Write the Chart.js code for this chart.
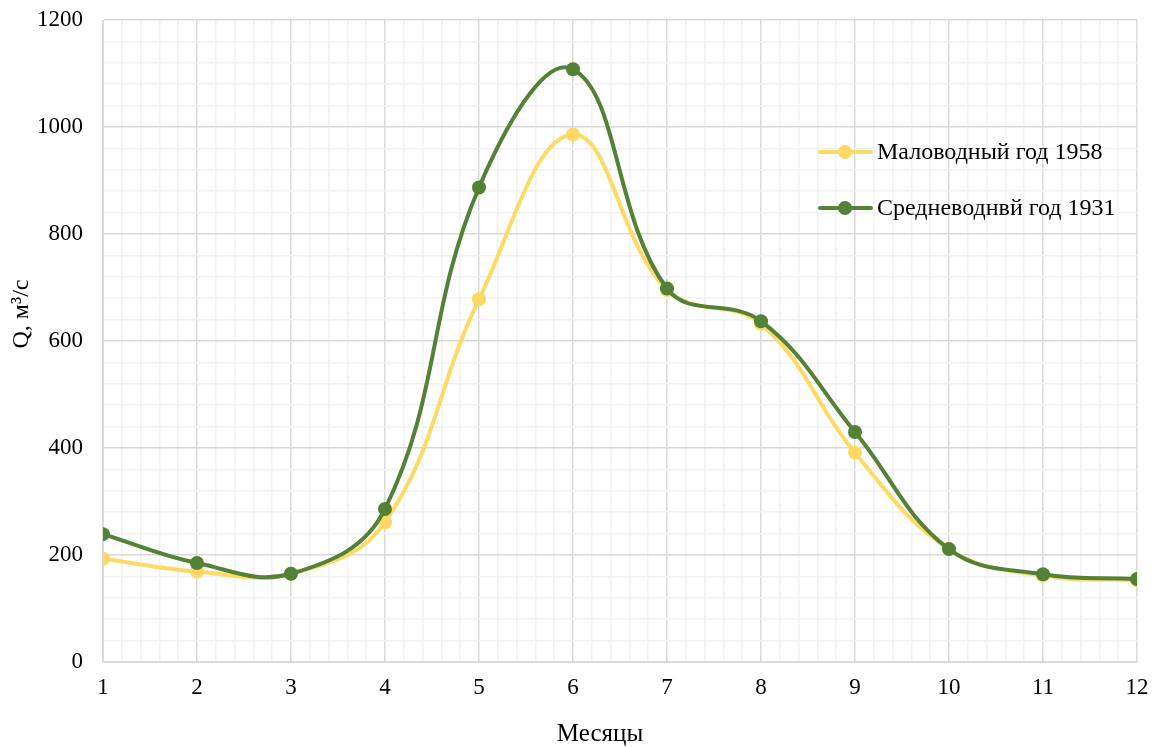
<!DOCTYPE html>
<html>
<head>
<meta charset="utf-8">
<script src="https://cdn.jsdelivr.net/npm/chart.js@4.4.1/dist/chart.umd.min.js"></script>
<style>
  html, body { margin: 0; padding: 0; background: #fff; }
  #wrap { width: 1157px; height: 747px; }
</style>
</head>
<body>
<div id="wrap"><canvas id="flowChart"></canvas></div>
<script>
var months = [1, 2, 3, 4, 5, 6, 7, 8, 9, 10, 11, 12];
var dry1958 = [193, 169, 165, 261, 678, 986, 695, 632, 391, 211, 161, 153];
var avg1931 = [239, 185, 165, 286, 887, 1108, 698, 637, 430, 211, 164, 155];
var labels = ['Маловодный год 1958', 'Средневоднвй год 1931'];
var colors = ['#FFD966', '#538135'];
var xTitle = 'Месяцы';
var yTitle = 'Q, м³/с';

function toPoints(vals) {
    return months.map(function(m, i) { return { x: m, y: vals[i] }; });
}

function isMajor(v, step) {
    var r = v / step;
    return Math.abs(r - Math.round(r)) < 1e-6;
}

var fontFamily = '"Liberation Serif", "Times New Roman", serif';

// legend and axis titles drawn by hand, placed like in the original
var overlay = {
    id: 'overlay',
    afterDraw: function(chart) {
        var ctx = chart.ctx;
        var rows = [152, 208];
        ctx.save();
        ctx.font = '24px ' + fontFamily;
        ctx.textBaseline = 'middle';
        for (var i = 0; i < labels.length; i++) {
            var y = rows[i];
            ctx.strokeStyle = colors[i];
            ctx.lineWidth = 4;
            ctx.lineCap = 'round';
            ctx.beginPath();
            ctx.moveTo(820, y);
            ctx.lineTo(871, y);
            ctx.stroke();
            ctx.fillStyle = colors[i];
            ctx.beginPath();
            ctx.arc(845, y, 7, 0, Math.PI * 2);
            ctx.fill();
            ctx.fillStyle = '#000';
            ctx.fillText(labels[i], 877, y + 1);
        }

        ctx.fillStyle = '#000';
        ctx.textAlign = 'center';
        ctx.font = '25px ' + fontFamily;
        ctx.fillText(xTitle, 600, 734);

        ctx.font = '24px ' + fontFamily;
        ctx.translate(22, 314);
        ctx.rotate(-Math.PI / 2);
        ctx.fillText(yTitle, 0, 0);
        ctx.restore();
    }
};

document.addEventListener('DOMContentLoaded', function() {
    var ctx = document.getElementById('flowChart').getContext('2d');
    new Chart(ctx, {
        type: 'line',
        data: {
            datasets: [
                {
                    label: labels[0],
                    data: toPoints(dry1958),
                    borderColor: colors[0],
                    backgroundColor: colors[0],
                    pointBackgroundColor: colors[0],
                    borderWidth: 4,
                    pointRadius: 7,
                    pointBorderWidth: 0,
                    tension: 0.4,
                    order: 2
                },
                {
                    label: labels[1],
                    data: toPoints(avg1931),
                    borderColor: colors[1],
                    backgroundColor: colors[1],
                    pointBackgroundColor: colors[1],
                    borderWidth: 4,
                    pointRadius: 7,
                    pointBorderWidth: 0,
                    tension: 0.4,
                    order: 1
                }
            ]
        },
        options: {
            responsive: true,
            maintainAspectRatio: false,
            animation: false,
            layout: { padding: { top: 20, right: 20, left: 0, bottom: 0 } },
            plugins: {
                legend: { display: false },
                tooltip: { enabled: false }
            },
            scales: {
                x: {
                    type: 'linear',
                    min: 1,
                    max: 12,
                    afterFit: function(scale) {
                        scale.height = 85;
                        scale.paddingLeft = 0;
                        scale.paddingRight = 0;
                    },
                    border: { color: '#d9d9d9', width: 1 },
                    grid: {
                        drawTicks: false,
                        color: function(c) { return isMajor(c.tick.value, 1) ? '#d9d9d9' : '#f2f2f2'; },
                        lineWidth: 1.5
                    },
                    ticks: {
                        stepSize: 0.2,
                        maxTicksLimit: 100,
                        autoSkip: false,
                        maxRotation: 0,
                        padding: 12,
                        color: '#000',
                        font: { family: fontFamily, size: 23 },
                        callback: function(v) { return isMajor(v, 1) ? String(Math.round(v)) : ''; }
                    }
                },
                y: {
                    min: 0,
                    max: 1200,
                    afterFit: function(scale) {
                        scale.width = 103;
                        scale.paddingTop = 0;
                        scale.paddingBottom = 0;
                    },
                    border: { color: '#d9d9d9', width: 1 },
                    grid: {
                        drawTicks: false,
                        color: function(c) { return isMajor(c.tick.value, 200) ? '#d9d9d9' : '#f2f2f2'; },
                        lineWidth: 1.5
                    },
                    ticks: {
                        stepSize: 40,
                        maxTicksLimit: 100,
                        autoSkip: false,
                        padding: 20,
                        color: '#000',
                        font: { family: fontFamily, size: 23 },
                        callback: function(v) { return isMajor(v, 200) ? String(Math.round(v)) : ''; }
                    }
                }
            }
        },
        plugins: [overlay]
    });
});
</script>
</body>
</html>
